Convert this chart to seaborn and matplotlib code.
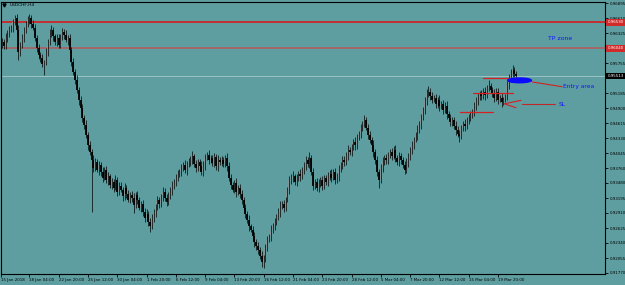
import numpy as np
import pandas as pd
import matplotlib
matplotlib.use("Agg")
import matplotlib.pyplot as plt
import matplotlib.transforms as mtransforms
from matplotlib.patches import Ellipse
import seaborn as sns

# ---------------- data (USDCHF, H4) ----------------
close = [
    0.9616, 0.9608, 0.9624, 0.9633, 0.9639, 0.9643, 0.9654, 0.9662, 0.9639, 0.9597,
    0.9610, 0.9624, 0.9639, 0.9650, 0.9658, 0.9662, 0.9650, 0.9643, 0.9624, 0.9605,
    0.9591, 0.9586, 0.9574, 0.9578, 0.9597, 0.9616, 0.9633, 0.9639, 0.9627, 0.9616,
    0.9624, 0.9610, 0.9627, 0.9635, 0.9629, 0.9620, 0.9624, 0.9601, 0.9578, 0.9559,
    0.9544, 0.9525, 0.9506, 0.9491, 0.9472, 0.9458, 0.9439, 0.9420, 0.9407, 0.9392,
    0.9377, 0.9388, 0.9373, 0.9382, 0.9369, 0.9358, 0.9373, 0.9354, 0.9361, 0.9344,
    0.9350, 0.9339, 0.9354, 0.9331, 0.9342, 0.9335, 0.9323, 0.9339, 0.9327, 0.9316,
    0.9325, 0.9320, 0.9306, 0.9325, 0.9316, 0.9301, 0.9308, 0.9293, 0.9282, 0.9289,
    0.9274, 0.9266, 0.9282, 0.9289, 0.9304, 0.9316, 0.9308, 0.9323, 0.9331, 0.9320,
    0.9312, 0.9325, 0.9335, 0.9342, 0.9350, 0.9358, 0.9365, 0.9369, 0.9377, 0.9382,
    0.9373, 0.9384, 0.9388, 0.9392, 0.9399, 0.9384, 0.9377, 0.9388, 0.9380, 0.9369,
    0.9382, 0.9396, 0.9401, 0.9392, 0.9396, 0.9386, 0.9397, 0.9380, 0.9392, 0.9388,
    0.9392, 0.9384, 0.9396, 0.9380, 0.9358, 0.9344, 0.9335, 0.9348, 0.9331, 0.9339,
    0.9327, 0.9316, 0.9301, 0.9289, 0.9278, 0.9266, 0.9259, 0.9247, 0.9236, 0.9228,
    0.9221, 0.9209, 0.9198, 0.9206, 0.9225, 0.9240, 0.9247, 0.9259, 0.9266, 0.9274,
    0.9285, 0.9293, 0.9304, 0.9308, 0.9301, 0.9316, 0.9335, 0.9354, 0.9358, 0.9361,
    0.9350, 0.9358, 0.9365, 0.9361, 0.9373, 0.9380, 0.9392, 0.9384, 0.9396, 0.9369,
    0.9342, 0.9350, 0.9339, 0.9346, 0.9354, 0.9342, 0.9358, 0.9350, 0.9361, 0.9365,
    0.9358, 0.9369, 0.9354, 0.9361, 0.9373, 0.9382, 0.9392, 0.9388, 0.9401, 0.9411,
    0.9407, 0.9415, 0.9426, 0.9420, 0.9434, 0.9441, 0.9453, 0.9460, 0.9468, 0.9453,
    0.9439, 0.9430, 0.9420, 0.9407, 0.9392, 0.9369, 0.9354, 0.9377, 0.9388, 0.9396,
    0.9392, 0.9401, 0.9407, 0.9399, 0.9411, 0.9396, 0.9388, 0.9399, 0.9392, 0.9382,
    0.9373, 0.9388, 0.9396, 0.9411, 0.9420, 0.9430, 0.9439, 0.9449, 0.9458, 0.9472,
    0.9487, 0.9506, 0.9517, 0.9521, 0.9513, 0.9506, 0.9510, 0.9498, 0.9506, 0.9494,
    0.9498, 0.9487, 0.9494, 0.9479, 0.9472, 0.9464, 0.9468, 0.9456, 0.9449, 0.9441,
    0.9437, 0.9453, 0.9460, 0.9456, 0.9468, 0.9472, 0.9477, 0.9483, 0.9494, 0.9506,
    0.9510, 0.9517, 0.9513, 0.9521, 0.9515, 0.9529, 0.9532, 0.9525, 0.9517, 0.9510,
    0.9521, 0.9506, 0.9510, 0.9502, 0.9506, 0.9513, 0.9534, 0.9548, 0.9555, 0.9563,
    0.9555, 0.9551,
]
first_open = 0.9612

# wick lengths above / below the body, in pips
upper_wick_pips = [
    7, 5, 9, 6, 8, 6, 5, 5, 7, 9, 5, 8, 6, 5, 7, 7, 6, 7, 8, 5,
    7, 5, 8, 4, 7, 5, 8, 9, 6, 5, 8, 7, 5, 8, 6, 9, 5, 7, 5, 8,
    6, 9, 5, 8, 7, 5, 9, 6, 8, 5, 9, 7, 5, 8, 6, 9, 5, 8, 7, 5,
    8, 6, 9, 5, 8, 7, 5, 9, 6, 8, 5, 7, 9, 5, 8, 6, 5, 8, 7, 9,
    5, 8, 7, 9, 5, 8, 6, 5, 9, 7, 8, 5, 6, 9, 5, 8, 7, 5, 8, 6,
    9, 5, 8, 7, 9, 5, 8, 6, 5, 9, 7, 8, 5, 9, 6, 5, 8, 7, 9, 5,
    8, 6, 5, 9, 7, 8, 5, 6, 9, 5, 8, 7, 5, 8, 6, 9, 5, 8, 7, 5,
    8, 6, 9, 5, 8, 7, 5, 9, 6, 8, 5, 7, 9, 5, 8, 6, 5, 8, 7, 9,
    5, 8, 6, 9, 5, 8, 7, 5, 11, 6, 8, 5, 7, 9, 5, 8, 6, 5, 8, 7,
    9, 5, 8, 6, 9, 5, 8, 7, 5, 9, 6, 8, 5, 9, 7, 5, 8, 6, 9, 5,
    8, 7, 5, 9, 6, 8, 5, 7, 9, 5, 8, 6, 5, 8, 7, 9, 5, 8, 6, 5,
    8, 7, 9, 5, 8, 6, 5, 9, 7, 8, 5, 6, 9, 11, 8, 7, 5, 8, 6, 9,
    5, 8, 7, 9, 5, 8, 6, 5, 9, 7, 8, 5, 6, 9, 5, 8, 7, 5, 8, 6,
    9, 5, 8, 7, 9, 5, 12, 6, 5, 9, 7, 8, 5, 9, 6, 5, 8, 7, 9, 9,
    6, 5,
]
lower_wick_pips = [
    8, 6, 5, 9, 7, 5, 8, 6, 9, 15, 7, 5, 8, 6, 5, 7, 8, 5, 6, 9,
    7, 8, 5, 21, 6, 8, 5, 7, 9, 5, 8, 6, 5, 8, 7, 5, 9, 6, 8, 5,
    8, 6, 9, 5, 8, 7, 5, 9, 6, 99, 8, 6, 5, 9, 7, 8, 5, 6, 9, 5,
    7, 9, 5, 8, 6, 5, 9, 7, 8, 5, 6, 9, 15, 6, 8, 5, 9, 7, 8, 5,
    8, 11, 6, 9, 5, 8, 7, 5, 9, 6, 8, 5, 7, 9, 5, 8, 6, 5, 8, 7,
    6, 9, 5, 8, 7, 5, 9, 6, 8, 5, 7, 9, 5, 8, 6, 5, 8, 7, 9, 5,
    8, 6, 5, 9, 7, 8, 5, 6, 9, 5, 8, 7, 5, 8, 6, 9, 5, 8, 9, 7,
    8, 6, 9, 11, 8, 7, 5, 9, 6, 8, 5, 7, 9, 5, 8, 6, 5, 8, 7, 9,
    5, 8, 6, 9, 5, 8, 7, 5, 8, 6, 8, 5, 7, 9, 5, 8, 6, 5, 8, 7,
    9, 5, 8, 6, 9, 5, 8, 7, 5, 9, 6, 8, 5, 9, 7, 5, 8, 6, 5, 5,
    8, 6, 5, 9, 7, 8, 15, 6, 9, 5, 8, 7, 5, 8, 6, 9, 5, 8, 7, 5,
    8, 6, 9, 5, 8, 7, 5, 9, 6, 8, 5, 7, 9, 5, 8, 6, 5, 8, 7, 9,
    5, 8, 6, 9, 5, 8, 7, 5, 9, 6, 11, 5, 7, 9, 5, 8, 6, 5, 8, 7,
    9, 5, 8, 6, 9, 5, 7, 6, 5, 9, 7, 8, 5, 9, 6, 5, 8, 7, 9, 5,
    6, 5,
]

date_labels = ["15 Jan 2018", "18 Jan 04:00", "22 Jan 20:00", "25 Jan 12:00",
               "30 Jan 04:00", "1 Feb 20:00", "6 Feb 12:00", "9 Feb 04:00",
               "13 Feb 20:00", "16 Feb 12:00", "21 Feb 04:00", "23 Feb 20:00",
               "28 Feb 12:00", "5 Mar 04:00", "7 Mar 20:00", "12 Mar 12:00",
               "15 Mar 04:00", "19 Mar 20:00"]
date_bars = [-0.5, 15, 31, 47, 63, 79, 95, 111, 127, 143, 159, 175, 191, 207,
             223, 239, 255, 271]

price_ticks = [0.96895, 0.96610, 0.96325, 0.95755, 0.95185, 0.94900, 0.94615,
               0.94330, 0.94045, 0.93760, 0.93480, 0.93195, 0.92910, 0.92625,
               0.92340, 0.92055, 0.91770]

tp_levels = [0.96530, 0.96040]
tp_colors = ["#e01010", "#b45858"]
bid_price = 0.95513

# entry levels drawn on the chart (price, first bar, last bar)
zone_prices = [0.9548, 0.9519, 0.9483]
zone_start = [263, 257.5, 250.3]
zone_end = [277, 279.3, 268.3]

BG = "#5f9ea0"

# ---------------- style ----------------
sns.set_theme(style="ticks")
plt.rcParams["font.family"] = ["DejaVu Sans"]

df = pd.DataFrame({"close": close})
df["open"] = [first_open] + close[:-1]
df["bar"] = np.arange(len(df))
body_top = df[["open", "close"]].max(axis=1)
body_bot = df[["open", "close"]].min(axis=1)
df["high"] = body_top + np.array(upper_wick_pips) / 1e4
df["low"] = body_bot - np.array(lower_wick_pips) / 1e4
df["bull"] = df["close"] >= df["open"]

fig = plt.figure(figsize=(6.25, 2.85), dpi=100)
fig.patch.set_facecolor(BG)
ax = fig.add_axes([1 / 625, 11 / 285, 604 / 625, 272 / 285])
ax.set_facecolor(BG)

# horizontal levels
for lv, col in zip(tp_levels, tp_colors):
    ax.axhline(lv, color=col, lw=1.1, zorder=1)
ax.axhline(bid_price, color="#b4d2d2", lw=0.5, zorder=1)

# candles
bt = np.maximum(body_top, body_bot + 0.00008)
isbull = df["bull"].values
ax.vlines(df["bar"][isbull], body_bot[isbull], bt[isbull],
          colors="#8a9494", lw=1.35, zorder=2)
ax.vlines(df["bar"], df["low"], df["high"], colors="#000000", lw=0.5, zorder=3)
ax.vlines(df["bar"][~isbull], body_bot[~isbull], bt[~isbull],
          colors="#000000", lw=1.3, zorder=4)

# entry level segments
for p, s, e in zip(zone_prices, zone_start, zone_end):
    ax.plot([s, e], [p, p], color="#d42020", lw=0.9, zorder=5)

# blue entry blob
ax.add_patch(Ellipse((282.8, 0.9543), 13.0, 0.0009, color="#0a0aff", zorder=6))
ax.plot([289.7, 306.0], [0.9540, 0.9531], color="#d42020", lw=0.8, zorder=5)
ax.text(306.8, 0.9532, "Entry area", color="#1414ff", fontsize=4.3,
        va="center", ha="left", zorder=7)
ax.text(298.4, 0.9623, "TP zone", color="#1414ff", fontsize=4.4,
        va="center", ha="left", zorder=7)
# SL marker
ax.plot([283.6, 274.5, 280.9], [0.9505, 0.94985, 0.9491], color="#d42020",
        lw=0.8, zorder=5)
ax.plot([284.0, 302.3], [0.94975, 0.94975], color="#c02828", lw=0.8, zorder=5)
ax.text(303.9, 0.9498, "SL", color="#1414ff", fontsize=4.4, va="center",
        ha="left", zorder=7)

# axes
ax.set_xlim(-0.5, 329.5)
ax.set_ylim(0.91751, 0.96919)
for sp in ax.spines.values():
    sp.set_color("#000000")
    sp.set_linewidth(0.8)
    sp.set_visible(True)

ax.yaxis.tick_right()
ax.set_yticks(price_ticks)
ax.set_yticklabels([f"{v:.5f}" for v in price_ticks])
ax.tick_params(axis="y", which="both", length=2.2, width=0.6, pad=1,
               labelsize=2.9, colors="#000000", direction="out")
ax.set_xticks(date_bars)
ax.set_xticklabels(date_labels)
ax.tick_params(axis="x", length=2.2, width=0.6, pad=0.6, labelsize=2.9,
               colors="#000000", direction="out")
for lbl in ax.get_xticklabels():
    lbl.set_ha("left")
ax.grid(False)

# right-axis value boxes
tr = mtransforms.blended_transform_factory(ax.transAxes, ax.transData)
for lv in tp_levels:
    ax.text(1.004, lv, f"{lv:.5f}", transform=tr, fontsize=2.9, color="white",
            va="center", ha="left", clip_on=False, zorder=10,
            bbox=dict(boxstyle="square,pad=0.35", fc="#d02a2a", ec="none"))
ax.text(1.004, bid_price, f"{bid_price:.5f}", transform=tr, fontsize=2.9,
        color="white", va="center", ha="left", clip_on=False, zorder=10,
        bbox=dict(boxstyle="square,pad=0.35", fc="#000000", ec="none"))

# symbol caption
ax.plot([0.0055], [0.989], marker="v", markersize=2.2, color="#000000",
        transform=ax.transAxes, clip_on=False)
ax.text(0.0135, 0.989, "USDCHF,H4", transform=ax.transAxes, fontsize=3.2,
        va="center", ha="left", color="#000000")

fig.savefig("out.png", dpi=100, facecolor=BG)
